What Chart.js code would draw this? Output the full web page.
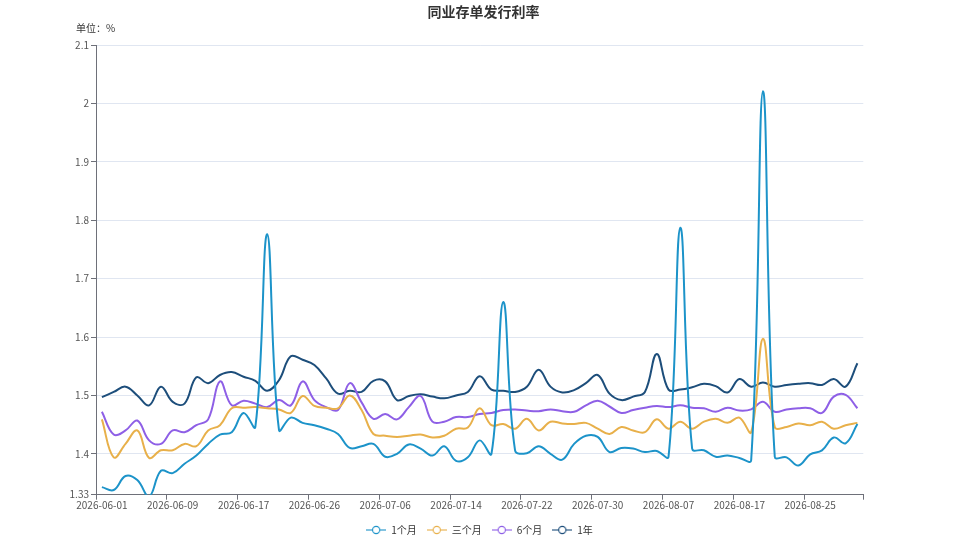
<!DOCTYPE html>
<html><head><meta charset="utf-8">
<script src="https://cdn.jsdelivr.net/npm/chart.js@4/dist/chart.umd.min.js"></script>
<style>html,body{margin:0;padding:0;background:#fff}#wrap{width:959px;height:539px}</style>
</head><body><div id="wrap"><canvas id="c" width="959" height="539"></canvas></div>
<script>
const dates = ['2026-06-01','2026-06-02','2026-06-03','2026-06-04','2026-06-05','2026-06-08','2026-06-09','2026-06-10','2026-06-11','2026-06-12',
'2026-06-15','2026-06-16','2026-06-17','2026-06-18','2026-06-22','2026-06-23','2026-06-24','2026-06-25','2026-06-26','2026-06-29','2026-06-30',
'2026-07-01','2026-07-02','2026-07-03','2026-07-06','2026-07-07','2026-07-08','2026-07-09','2026-07-10','2026-07-13','2026-07-14',
'2026-07-15','2026-07-16','2026-07-17','2026-07-20','2026-07-21','2026-07-22','2026-07-23','2026-07-24','2026-07-27','2026-07-28',
'2026-07-29','2026-07-30','2026-07-31','2026-08-03','2026-08-04','2026-08-05','2026-08-06','2026-08-07','2026-08-10','2026-08-11',
'2026-08-12','2026-08-13','2026-08-14','2026-08-17','2026-08-18','2026-08-19','2026-08-20','2026-08-21','2026-08-24','2026-08-25',
'2026-08-26','2026-08-27','2026-08-28','2026-08-31'];

const m1 = [1.343,1.338,1.362,1.355,1.327,1.371,1.367,1.383,1.397,1.417,1.433,1.437,1.470,1.446,1.776,1.441,1.462,1.453,1.449,1.443,1.434,
1.410,1.413,1.417,1.395,1.400,1.416,1.409,1.397,1.413,1.388,1.394,1.423,1.400,1.660,1.406,1.401,1.413,1.400,1.390,1.417,1.431,1.429,
1.403,1.410,1.409,1.403,1.405,1.395,1.787,1.409,1.406,1.395,1.397,1.393,1.389,2.021,1.395,1.394,1.380,1.399,1.406,1.428,1.418,1.451];

const m3 = [1.459,1.394,1.417,1.440,1.393,1.406,1.406,1.417,1.413,1.440,1.449,1.478,1.479,1.480,1.478,1.476,1.470,1.499,1.482,1.479,1.478,
1.500,1.475,1.434,1.431,1.429,1.431,1.433,1.428,1.431,1.443,1.445,1.478,1.449,1.451,1.443,1.460,1.440,1.455,1.452,1.451,1.453,1.443,
1.434,1.446,1.440,1.437,1.459,1.443,1.455,1.443,1.455,1.460,1.453,1.462,1.437,1.597,1.446,1.446,1.452,1.449,1.455,1.443,1.449,1.453];

const m6 = [1.472,1.433,1.440,1.457,1.423,1.417,1.440,1.437,1.449,1.459,1.524,1.483,1.491,1.486,1.480,1.492,1.483,1.524,1.492,1.480,1.475,
1.521,1.488,1.460,1.468,1.459,1.480,1.499,1.455,1.455,1.463,1.463,1.468,1.470,1.475,1.476,1.474,1.473,1.476,1.473,1.472,1.483,1.491,
1.481,1.470,1.475,1.479,1.482,1.480,1.483,1.479,1.478,1.472,1.479,1.474,1.476,1.489,1.472,1.476,1.478,1.478,1.470,1.498,1.501,1.478];

const y1 = [1.497,1.506,1.515,1.500,1.483,1.515,1.489,1.486,1.531,1.521,1.535,1.540,1.532,1.525,1.508,1.526,1.567,1.561,1.552,1.529,1.503,
1.508,1.506,1.525,1.524,1.492,1.499,1.502,1.498,1.495,1.500,1.506,1.533,1.510,1.508,1.506,1.515,1.544,1.515,1.505,1.509,1.521,1.535,
1.503,1.492,1.498,1.506,1.571,1.510,1.510,1.514,1.520,1.516,1.505,1.528,1.515,1.522,1.515,1.518,1.520,1.521,1.518,1.528,1.515,1.555];

const yTicks = [1.33,1.4,1.5,1.6,1.7,1.8,1.9,2,2.1];
const seriesNames = ['1个月','三个月','6个月','1年'];
const seriesColors = ['#1c93c9','#e8b04a','#8e5fe6','#1d4e7b'];
const seriesData = [m1, m3, m6, y1];

const FONT = '"Noto Sans CJK SC", "Noto Sans", sans-serif';

function legendIcon(color){
  const c = document.createElement('canvas'); c.width = 20; c.height = 10;
  const g = c.getContext('2d');
  g.strokeStyle = color; g.lineWidth = 1.1;
  g.beginPath(); g.moveTo(0,5); g.lineTo(20,5); g.stroke();
  g.beginPath(); g.arc(10,5,3.6,0,Math.PI*2); g.fillStyle='#fff'; g.fill(); g.stroke();
  return c;
}

const extras = {
  id: 'extras',
  afterLayout(chart){
    const l = chart.legend; if (l){ l.top += 6; l.bottom += 6; }
    const t = chart.titleBlock; if (t){ t.left += 4; t.right += 4; }
  },
  afterDraw(chart){
    const ctx = chart.ctx; ctx.save();
    ctx.font = '10px ' + FONT; ctx.fillStyle = '#333';
    ctx.textBaseline = 'middle'; ctx.textAlign = 'left';
    ctx.fillText('单位：%', 76, 28);
    ctx.restore();
  }
};

new Chart(document.getElementById('c'), {
  type: 'line',
  data: {
    labels: dates,
    datasets: seriesData.map((d, i) => ({
      label: seriesNames[i], data: d,
      borderColor: seriesColors[i], backgroundColor: seriesColors[i],
      borderWidth: 2, tension: 0.4, pointRadius: 0, pointHoverRadius: 0,
      pointStyle: legendIcon(seriesColors[i]), fill: false
    }))
  },
  options: {
    responsive: false, animation: false, devicePixelRatio: 1,
    layout: { padding: { left: 0, right: 0, top: 0, bottom: 0 } },
    plugins: {
      title: { display: true, text: '同业存单发行利率', color: '#333',
        font: { size: 14, weight: 'bold', family: FONT }, padding: { top: 3.6, bottom: 24.6 } },
      legend: { position: 'bottom',
        labels: { usePointStyle: true, pointStyleWidth: 20, color: '#333', padding: 10,
          font: { size: 10, family: FONT } } },
      tooltip: { enabled: false }
    },
    scales: {
      x: {
        type: 'category', offset: true,
        afterFit: s => { s.height = 14.3; },
        ticks: { autoSkip: false, maxRotation: 0, minRotation: 0, padding: 0, color: '#555',
          font: { size: 10, family: FONT },
          callback: (v, i) => (i % 6 === 0 ? dates[i] : '') },
        grid: { offset: true, drawOnChartArea: false, tickLength: 5,
          tickColor: ctx => (ctx.index === undefined || ctx.index % 6 === 0) ? '#6E7079' : 'rgba(0,0,0,0)' },
        border: { display: true, color: '#6E7079' }
      },
      y: {
        min: 1.33, max: 2.1,
        afterBuildTicks: s => { s.ticks = yTicks.map(v => ({ value: v })); },
        afterFit: s => { s.width = 96; },
        ticks: { color: '#555', padding: 2, font: { size: 10, family: FONT },
          callback: v => String(+(+v).toFixed(2)) },
        grid: { color: ctx => (ctx.tick && ctx.tick.value === 1.33) ? 'rgba(0,0,0,0)' : '#E0E6F1',
          tickColor: '#6E7079', tickLength: 5 },
        border: { display: true, color: '#6E7079' }
      },
      r2: {
        type: 'linear', position: 'right', display: true,
        afterFit: s => { s.width = 95.7; },
        ticks: { display: false }, grid: { display: false }, border: { display: false }
      }
    }
  },
  plugins: [extras]
});
</script></body></html>
